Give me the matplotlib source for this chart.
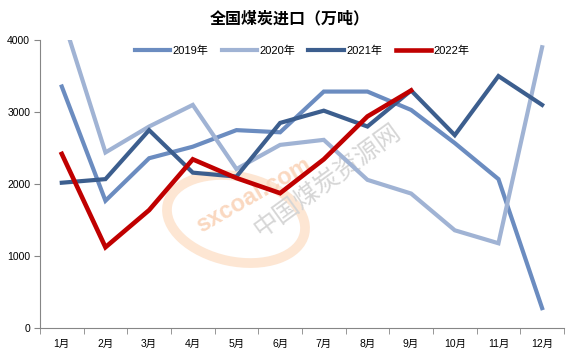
import numpy as np
import matplotlib.pyplot as plt
from matplotlib.patches import Ellipse

plt.rcParams['font.family'] = ['Liberation Sans', 'Noto Sans CJK SC', 'DejaVu Sans']

months = ["1月", "2月", "3月", "4月", "5月", "6月", "7月", "8月", "9月", "10月", "11月", "12月"]
imports_2019 = [3355, 1770, 2360, 2520, 2750, 2720, 3285, 3285, 3030, 2570, 2070, 280]
imports_2020 = [4350, 2440, 2800, 3100, 2210, 2545, 2615, 2060, 1870, 1360, 1180, 3900]
imports_2021 = [2020, 2070, 2750, 2160, 2105, 2850, 3020, 2800, 3300, 2680, 3500, 3100]
imports_2022 = [2420, 1125, 1640, 2345, 2085, 1875, 2345, 2940, 3300]

series = [
    ("2019年", imports_2019, "#6b8cc0", 3.0),
    ("2020年", imports_2020, "#a0b3d4", 3.0),
    ("2021年", imports_2021, "#3c5e8e", 3.0),
    ("2022年", imports_2022, "#c00000", 3.3),
]

fig = plt.figure(figsize=(5.79, 3.55), dpi=100)
ax = fig.add_axes([0.069, 0.0752, 0.905, 0.812])

# faint watermark (placed in inches so the ring keeps its shape)
ring = Ellipse((2.36, 1.36), 1.4, 0.85, angle=-12, fill=False, edgecolor="#fde6d3",
               linewidth=7, zorder=0, transform=fig.dpi_scale_trans)
ax.add_patch(ring)
ax.text(4.4, 1850, "sxcoal.com", rotation=30, fontsize=17, color="#fad8c0",
        fontweight="bold", ha="center", va="center", zorder=0)
ax.text(6.1, 2050, "中国煤炭资源网", rotation=36, fontsize=18, color="#d6d6d6",
        ha="center", va="center", zorder=0, family=["Noto Sans CJK SC"])

x = np.arange(len(months))
for label, values, color, lw in series:
    ax.plot(x[:len(values)], values, color=color, linewidth=lw, label=label,
            solid_joinstyle="miter", zorder=3)

ax.set_xlim(-0.5, 11.5)
ax.set_ylim(0, 4000)
ax.set_yticks([0, 1000, 2000, 3000, 4000])
ax.set_xticks(x)
ax.set_xticklabels(months)
ax.set_xticks(np.arange(-0.5, 12, 1), minor=True)
ax.tick_params(axis="x", which="major", length=0, labelsize=7.5, pad=8)
ax.tick_params(axis="x", which="minor", length=4, color="#868686")
ax.tick_params(axis="y", length=4, color="#868686", labelsize=7.5, pad=3)

for side in ["top", "right"]:
    ax.spines[side].set_visible(False)
for side in ["left", "bottom"]:
    ax.spines[side].set_color("#868686")

ax.legend(loc="upper center", bbox_to_anchor=(0.5, 1.015), ncol=4, frameon=False,
          fontsize=8, handlelength=3.2, handletextpad=0.2, columnspacing=1.2)

fig.suptitle("全国煤炭进口（万吨）", y=0.972, fontsize=11.5, fontweight="bold",
             family=["Noto Sans CJK SC"])

fig.savefig("out.png", dpi=100)
